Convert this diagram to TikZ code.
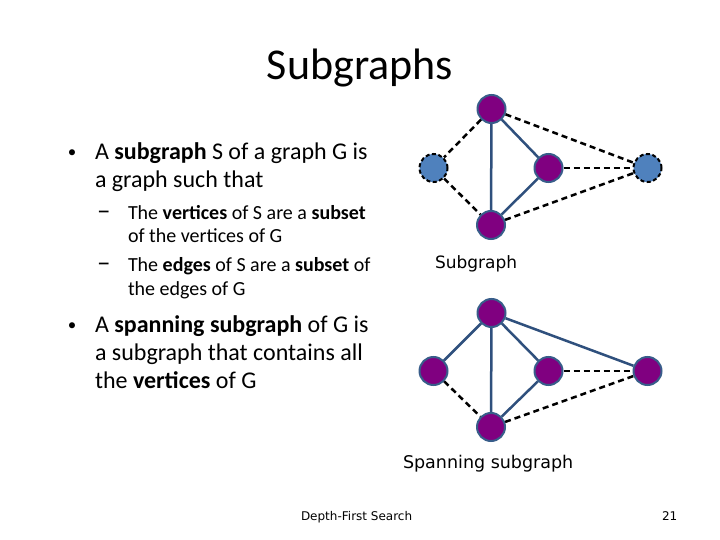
\documentclass[tikz,border=0pt]{standalone}
\usepackage{fontspec}
\setmainfont{Carlito}
\newfontfamily\tah{DejaVu Sans}
\definecolor{vpurple}{RGB}{128,0,128}
\definecolor{vborder}{RGB}{56,93,138}
\definecolor{vblue}{RGB}{79,129,189}
\definecolor{eblue}{RGB}{47,80,125}
\begin{document}
\begin{tikzpicture}[x=1pt,y=-1pt,
  txt/.style={anchor=base west, inner sep=0, outer sep=0},
  big/.style={font=\fontsize{24}{28}\selectfont},
  small/.style={font=\fontsize{20}{24}\selectfont},
  bul/.style={anchor=base, inner sep=0, outer sep=0, font=\fontsize{17}{20}\selectfont},
  dsh/.style={anchor=base west, inner sep=0, outer sep=0, font=\fontsize{27}{30}\selectfont},
  pv/.style={circle, minimum size=28pt, inner sep=0, fill=vpurple, draw=vborder, line width=2pt},
  bv/.style={circle, minimum size=28pt, inner sep=0, fill=vblue, draw=black, line width=2pt, dash pattern=on 4pt off 2.5pt},
  se/.style={draw=eblue, line width=2.5pt},
  de/.style={draw=black, line width=2.5pt, dash pattern=on 6pt off 4pt}]
\useasboundingbox (0,0) rectangle (720,540);
\fill[white] (0,0) rectangle (720,540);
% title
\node[anchor=base, inner sep=0, font=\fontsize{44}{48}\selectfont] (title) at (360,80) {Subgraphs};
% bullets
\node[bul] (d1) at (72,158) {•};
\node[txt, big] (b1a) at (95,160) {A \textbf{subgraph} S of a graph G is};
\node[txt, big] (b1b) at (95,188) {a graph such that};
\node[dsh] (s1d) at (97,219) {–};
\node[txt, small] (s1a) at (128,219) {The \textbf{vertices} of S are a \textbf{subset}};
\node[txt, small] (s1b) at (128,243) {of the vertices of G};
\node[dsh] (s2d) at (97,271) {–};
\node[txt, small] (s2a) at (128,271) {The \textbf{edges} of S are a \textbf{subset} of};
\node[txt, small] (s2b) at (128,295) {the edges of G};
\node[bul] (d2) at (72,330) {•};
\node[txt, big] (b2a) at (95,332) {A \textbf{spanning subgraph} of G is};
\node[txt, big] (b2b) at (95,360) {a subgraph that contains all};
\node[txt, big] (b2c) at (95,388) {the \textbf{vertices} of G};
% labels
\node[txt, font=\tah\fontsize{17}{20}\selectfont] (lab1) at (435,268) {Subgraph};
\node[txt, font=\tah\fontsize{17.5}{20}\selectfont] (lab2) at (403,468) {Spanning subgraph};
\node[txt, font=\tah\fontsize{12}{14}\selectfont] (foot) at (301,520) {Depth-First Search};
\node[txt, font=\tah\fontsize{12}{14}\selectfont] (num) at (662,520) {21};
% top graph
\node[pv] (t1) at (491.5,109) {};
\node[bv] (l1) at (433.5,168) {};
\node[pv] (m1) at (548.5,168) {};
\node[bv] (r1) at (647.5,168) {};
\node[pv] (u1) at (491,225) {};
\draw[se] (t1) -- (u1);
\draw[se] (t1) -- (m1);
\draw[se] (m1) -- (u1);
\draw[de] (t1) -- (l1);
\draw[de] (l1) -- (u1);
\draw[de] (t1) -- (r1);
\draw[de] (m1) -- (r1);
\draw[de] (u1) -- (r1);
% bottom graph
\node[pv] (t2) at (491.5,313) {};
\node[pv] (l2) at (433.5,371) {};
\node[pv] (m2) at (548.5,371) {};
\node[pv] (r2) at (647.5,371) {};
\node[pv] (u2) at (491,427) {};
\draw[se] (t2) -- (l2);
\draw[se] (t2) -- (u2);
\draw[se] (t2) -- (m2);
\draw[se] (t2) -- (r2);
\draw[se] (m2) -- (u2);
\draw[de] (l2) -- (u2);
\draw[de] (m2) -- (r2);
\draw[de] (u2) -- (r2);
\end{tikzpicture}
\end{document}
